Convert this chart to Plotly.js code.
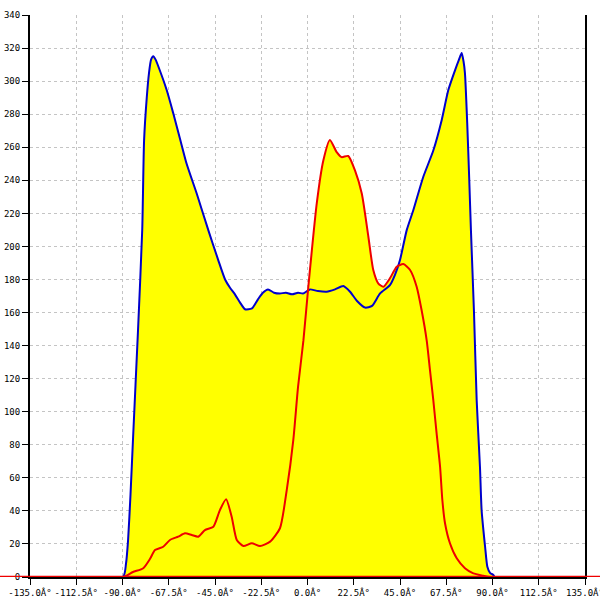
<!DOCTYPE html>
<html>
<head>
<meta charset="utf-8">
<script src="https://cdn.plot.ly/plotly-3.0.1.min.js"></script>
<style>html,body{margin:0;padding:0;background:#fff;}#chart{width:600px;height:600px;}</style>
</head>
<body>
<div id="chart"></div>
<script>
// Blue series (angle in degrees, value)
const blueX = [-135, -89.8, -88.3, -87.3, -86.1, -84.9, -82.5, -80.4, -79.5, -78.2, -77.1, -76.1, -75.0, -73.9, -72.6, -68.5, -65.3, -62.0, -58.8, -53.9, -48.3, -43.5, -40.1, -37.7, -35.3, -32.8, -30.4, -27.0, -24.1, -21.7, -19.2, -16.3, -13.4, -10.5, -7.5, -4.6, -2.2, -0.2, 1.2, 5.1, 9.3, 13.4, 17.4, 20.7, 24.1, 28.0, 31.4, 35.3, 40.1, 42.6, 45.0, 48.3, 51.5, 56.3, 61.2, 65.3, 68.5, 71.8, 73.7, 75.0, 75.9, 76.6, 77.7, 78.7, 79.5, 81.0, 82.3, 83.9, 84.7, 86.4, 87.5, 88.8, 90.4, 91.2, 135];
const blueY = [0, 0, 8, 22, 50, 83, 148, 210, 264, 290, 305, 313, 315, 313, 309, 294.6, 280.5, 265, 250, 232, 210, 192, 180, 175, 171, 166, 162, 162.5, 168, 172, 174, 172, 171.5, 172, 171, 172, 171.5, 173, 174, 173, 172.6, 174, 176, 172.6, 167, 163, 164, 171.6, 176.6, 183, 191.8, 210, 222, 242, 258, 276.5, 294.6, 306.7, 313, 317, 312, 304.7, 274.6, 240, 210, 160, 107, 66.7, 40.5, 18.3, 6.2, 2.5, 1.2, 0, 0];
// Red series
const redX = [-135, -89.6, -84.9, -79.9, -76.6, -74.2, -70.2, -66.9, -62.9, -59.6, -56.3, -53.1, -49.9, -45.8, -42.6, -39.6, -36.9, -34.4, -31.2, -27.1, -23.1, -18.2, -13.4, -10.1, -6.9, -4.6, -2.0, 0.4, 4.5, 7.7, 10.9, 14.2, 16.6, 19.8, 23.1, 26.4, 29.6, 32.0, 34.4, 36.9, 40.1, 43.4, 46.6, 49.9, 53.1, 55.5, 58.0, 59.6, 61.2, 62.8, 64.5, 65.6, 66.9, 69.3, 72.6, 76.6, 80.7, 85.5, 88.8, 135];
const redY = [0, 0, 3, 5.3, 11, 16.3, 18.3, 22.4, 24.4, 26.4, 25.4, 24.4, 28.4, 30.4, 40.5, 47, 36.5, 22.4, 18.7, 20.4, 18.7, 21.4, 29.5, 52.6, 83, 115, 143, 175.6, 226, 252, 264.4, 257, 254, 254.7, 246, 232, 206, 185.7, 177.7, 175.6, 180.7, 187.7, 189.3, 185.7, 175.6, 161.5, 143, 125, 107, 87, 66.7, 46.6, 32.5, 20.4, 11.3, 5.3, 2.2, 0.8, 0, 0];
// Axis ticks
const xTickVals = [-135, -112.5, -90, -67.5, -45, -22.5, 0, 22.5, 45, 67.5, 90, 112.5, 135];
const xTickText = ["-135.0\u00c2\u00b0", "-112.5\u00c2\u00b0", "-90.0\u00c2\u00b0", "-67.5\u00c2\u00b0", "-45.0\u00c2\u00b0", "-22.5\u00c2\u00b0", "0.0\u00c2\u00b0", "22.5\u00c2\u00b0", "45.0\u00c2\u00b0", "67.5\u00c2\u00b0", "90.0\u00c2\u00b0", "112.5\u00c2\u00b0", "135.0\u00c2\u00b0"];

const font = {family: "DejaVu Sans Mono, Liberation Mono, monospace", size: 9, color: "#000"};
const lineOpts = {shape: "spline", smoothing: 0.6};

const traces = [
  {x: redX, y: redY, type: "scatter", mode: "lines", fill: "tozeroy", fillcolor: "#ffff00",
   line: Object.assign({color: "rgba(0,0,0,0)", width: 0}, lineOpts), hoverinfo: "none"},
  {x: blueX, y: blueY, type: "scatter", mode: "lines", fill: "tozeroy", fillcolor: "#ffff00",
   line: Object.assign({color: "#0000cc", width: 2}, lineOpts), hoverinfo: "none"},
  {x: redX, y: redY, type: "scatter", mode: "lines",
   line: Object.assign({color: "#ee0000", width: 2}, lineOpts), hoverinfo: "none"}
];

const gridStyle = {showgrid: true, gridcolor: "#c4c4c4", griddash: "3px,3px", gridwidth: 1, zeroline: false};

const layout = {
  width: 600, height: 600,
  margin: {l: 30, r: 15, t: 15, b: 23, pad: 0},
  paper_bgcolor: "#fff", plot_bgcolor: "#fff",
  showlegend: false,
  font: font,
  xaxis: Object.assign({range: [-135, 135], tickvals: xTickVals, ticktext: xTickText, ticks: "outside", ticklen: 6,
    tickcolor: "#000", showline: true, linecolor: "#000", linewidth: 2, tickfont: font,
    ticklabeloverflow: "allow", fixedrange: true}, gridStyle),
  yaxis: Object.assign({range: [0, 340], dtick: 20, ticks: "outside", ticklen: 6, tickcolor: "#000",
    showline: true, linecolor: "#000", linewidth: 2, mirror: true, tickfont: font, fixedrange: true}, gridStyle),
  shapes: [
    {type: "line", xref: "paper", yref: "y", x0: -0.06, x1: 1.03, y0: 0, y1: 0,
     line: {color: "#ee0000", width: 2.5}, layer: "above"}
  ]
};

Plotly.newPlot("chart", traces, layout, {displayModeBar: false, staticPlot: true});
</script>
</body>
</html>
